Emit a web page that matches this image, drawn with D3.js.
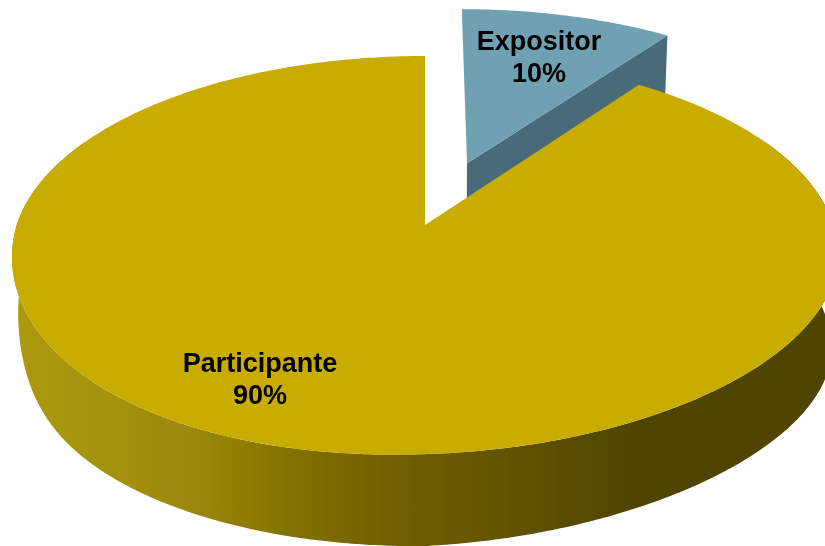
<!DOCTYPE html>
<html>
<head>
<meta charset="utf-8">
<script src="https://cdn.jsdelivr.net/npm/d3@7"></script>
<style>
  html, body { margin: 0; padding: 0; background: #fff; overflow: hidden; }
  svg { display: block; }
</style>
</head>
<body>
<div id="chart"></div>
<script>
const categories = ["Expositor", "Participante"];
const values = [10, 90];
const percentLabels = ["10%", "90%"];

const width = 825, height = 546;

const topColors = ["#6fa1b2", "#c9ac06"];
const sideColor = "#4a6a78";

// perspective of the tilted disc
const cx = 425, cy = 225, rx = 408.3, ry = 194.5, tilt = 0.1508;
const depth = 95.4, floorScale = 0.985;
const explode = 0.35;
// the front of the disc leans a bit, left side down and right side up
const lean = {top: [0.037, 0.028], floor: [0.012, 0.05]};

function project(u, v, down) {
  const w = 1 - tilt * v;
  const s = down ? floorScale : 1;
  const x = cx + rx * s * u / w;
  const k = lean[down ? "floor" : "top"][x < cx ? 0 : 1];
  let y = cy + (down ? depth : 0) + ry * s * v / w + k * (cx - x) * Math.max(0, v);
  // the wall starts higher up on the left edge
  if (down && u < 0) y -= 45 * Math.exp(-(v * v) / (0.35 * 0.35));
  return [x, y];
}

// point on the rim of the disc (angle clockwise from 12 o'clock), moved by an offset
function rim(a, off, down) {
  return project(off.u + Math.sin(a), off.v - Math.cos(a), down);
}

function arcSamples(a0, a1, off, down) {
  const n = Math.ceil(Math.abs(a1 - a0) / 0.01);
  return d3.range(n + 1).map(i => rim(a0 + (a1 - a0) * i / n, off, down));
}

const svg = d3.select("#chart").append("svg")
  .attr("width", width)
  .attr("height", height);

const defs = svg.append("defs");

defs.append("filter").attr("id", "soft")
  .append("feGaussianBlur").attr("stdDeviation", 0.5);

const grad = defs.append("linearGradient")
  .attr("id", "wall-gradient")
  .attr("gradientUnits", "userSpaceOnUse")
  .attr("x1", 0).attr("x2", width).attr("y1", 0).attr("y2", 0);
grad.selectAll("stop")
  .data([
    {offset: "0%", color: "#ad9a08"},
    {offset: "12%", color: "#a69307"},
    {offset: "24%", color: "#9a8707"},
    {offset: "36%", color: "#827005"},
    {offset: "48%", color: "#6f5f04"},
    {offset: "60%", color: "#645503"},
    {offset: "70%", color: "#574a03"},
    {offset: "77%", color: "#504503"},
    {offset: "100%", color: "#504503"}
  ])
  .enter().append("stop")
  .attr("offset", d => d.offset)
  .attr("stop-color", d => d.color);

const g = svg.append("g").attr("filter", "url(#soft)");

const line = d3.line().curve(d3.curveLinearClosed);

const slices = d3.pie().sort(null)(values);

const offsets = slices.map((d, i) => {
  const mid = (d.startAngle + d.endAngle) / 2;
  return i === 0
    ? {u: explode * Math.sin(mid), v: -explode * Math.cos(mid)}
    : {u: 0, v: 0};
});

// Expositor: cut face, then top
{
  const d = slices[0], off = offsets[0];
  const apexTop = project(off.u, off.v, false);
  const apexLow = project(off.u, off.v, true);
  g.append("path")
    .attr("fill", sideColor)
    .attr("d", line([apexTop, rim(d.endAngle, off, false), rim(d.endAngle, off, true), apexLow]));
  g.append("path")
    .attr("fill", topColors[0])
    .attr("d", line([apexTop].concat(arcSamples(d.startAngle, d.endAngle, off, false))));
}

// Participante: wall, then top
{
  const d = slices[1], off = offsets[1];
  const a0 = Math.PI * 0.35, a1 = Math.PI * 1.65;
  g.append("path")
    .attr("fill", "url(#wall-gradient)")
    .attr("d", line(arcSamples(a0, a1, off, false).concat(arcSamples(a1, a0, off, true))));
  g.append("path")
    .attr("fill", topColors[1])
    .attr("d", line([project(0, 0, false)].concat(arcSamples(d.startAngle, d.endAngle, off, false))));
}

// labels
const labelPos = [[539, 50], [260, 372]];
const labels = g.selectAll("text.label")
  .data(categories)
  .enter().append("text")
  .attr("class", "label")
  .attr("text-anchor", "middle")
  .attr("font-family", "'Liberation Sans', Arial, sans-serif")
  .attr("font-weight", "bold")
  .attr("font-size", 27)
  .attr("fill", "#000");
labels.append("tspan")
  .attr("x", (d, i) => labelPos[i][0])
  .attr("y", (d, i) => labelPos[i][1])
  .text(d => d);
labels.append("tspan")
  .attr("x", (d, i) => labelPos[i][0])
  .attr("y", (d, i) => labelPos[i][1] + 32)
  .text((d, i) => percentLabels[i]);
</script>
</body>
</html>
